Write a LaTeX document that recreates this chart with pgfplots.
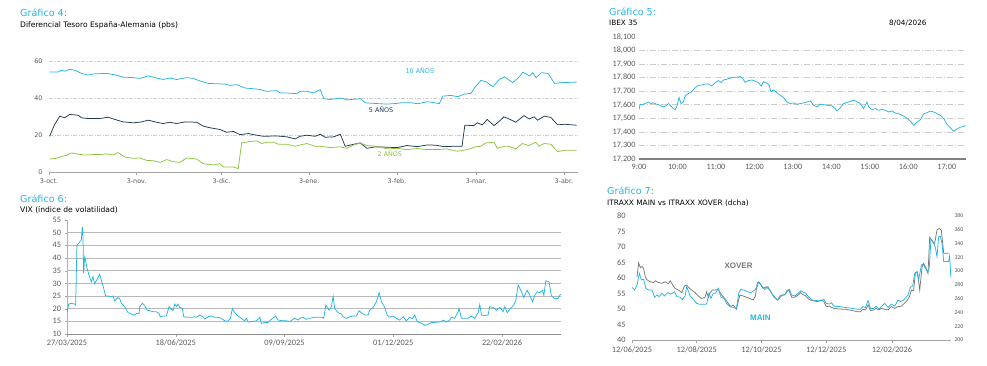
\documentclass[border=0pt]{standalone}
\usepackage{fontspec}
\setmainfont{DejaVu Sans}
\newfontfamily\carlito{Carlito}
\newfontfamily\arialf{Liberation Sans}
\usepackage{pgfplots}
\pgfplotsset{compat=1.18}
\definecolor{cy}{RGB}{38,180,228}
\definecolor{navy}{RGB}{30,58,78}
\definecolor{grn}{RGB}{140,196,60}
\definecolor{xg}{RGB}{120,120,120}
\definecolor{tickc}{RGB}{90,90,90}
\definecolor{ttl}{RGB}{40,180,230}
\begin{document}
\begin{tikzpicture}[x=1pt,y=1pt]
\path[use as bounding box] (0,0) rectangle (987,365);
% ---- titles
\node[anchor=base west, inner sep=0, text=ttl, font=\fontsize{9.6}{11}\selectfont] at (20,348) {Gráfico 4:};
\node[anchor=base west, inner sep=0, font=\fontsize{7.6}{9}\selectfont] at (20,337) {Diferencial Tesoro España-Alemania (pbs)};
\node[anchor=base west, inner sep=0, text=ttl, font=\fontsize{9.6}{11}\selectfont] at (609,349.5) {Gráfico 5:};
\node[anchor=base west, inner sep=0, font=\fontsize{7.3}{9}\selectfont] at (609,339) {IBEX 35};
\node[anchor=base west, inner sep=0, font=\fontsize{7.3}{9}\selectfont] at (889,339) {8/04/2026};
\node[anchor=base west, inner sep=0, text=ttl, font=\fontsize{9.6}{11}\selectfont] at (20,162.5) {Gráfico 6:};
\node[anchor=base west, inner sep=0, font=\fontsize{7.6}{9}\selectfont] at (20,152.3) {VIX (índice de volatilidad)};
\node[anchor=base west, inner sep=0, text=ttl, font=\fontsize{9.6}{11}\selectfont] at (607,170.5) {Gráfico 7:};
\node[anchor=base west, inner sep=0, font=\fontsize{7.4}{9}\selectfont] at (607,159.3) {ITRAXX MAIN vs ITRAXX XOVER (dcha)};

% ---- Grafico 4
\begin{axis}[
  at={(49pt,193pt)}, anchor=south west, scale only axis,
  width=529pt, height=111pt,
  xmin=0, xmax=187, ymin=0, ymax=60,
  axis lines*=left, axis line style={-},
  y axis line style={draw=none},
  x axis line style={draw=gray!70, line width=0.6pt},
  xtick={0,31,61,92,123,151,182},
  xticklabels={3-oct.,3-nov.,3-dic.,3-ene.,3-feb.,3-mar.,3-abr.},
  ytick={0,20,40,60},
  ymajorgrids,
  major grid style={gray!40, line width=0.5pt, dash pattern=on 4pt off 1.5pt on 1pt off 1.5pt},
  xtick style={draw=gray!70, line width=0.5pt},
  ytick style={draw=none},
  tick align=outside, major tick length=3pt,
  tick label style={font=\fontsize{6.4}{7}\selectfont, text=tickc},
  /pgf/number format/assume math mode=true,
]
\addplot[cy, line width=0.75pt] coordinates {(0.2,54) (3.2,54) (4.4,55) (5.5,54.5) (7.3,55.5) (9.1,55) (11.5,53.3) (13.8,52.4) (15.6,53) (20.3,53.3) (23.8,52.4) (26.2,51.3) (29.8,51) (32.1,50.6) (35.1,51.9) (38,50.8) (40.4,50) (42.7,50.8) (45.1,50) (48.6,51) (51,50.6) (53.4,49.2) (56.3,47.9) (59.3,47.7) (62.2,47.5) (64,46.8) (66.3,47.2) (69.3,45.4) (72.3,45) (74.6,44.6) (77,43.6) (80.5,44) (81.7,42.8) (85.2,42.6) (87.6,42.3) (88.8,43.6) (91.2,43.6) (93.5,42.8) (95.9,44.5) (97.2,39.6) (99.4,39.2) (103,40) (105.3,39) (110,39.6) (111.8,37.4) (115.9,37) (119.5,36.7) (122.4,37) (124.4,37.4) (128,37.4) (130.3,36.9) (133.8,38) (138,37) (139.2,41) (142.1,41.4) (144.5,40.7) (146.8,42.1) (149.2,42.5) (150.4,45.5) (152.7,49.5) (154.5,48.8) (156.9,46.1) (159.2,50) (161,51.5) (163.9,48.3) (166.3,51.5) (167.5,54) (169.9,51.9) (171,53.7) (172.2,51) (174,53.7) (176.4,53.3) (178.7,47.9) (181.1,48.3) (186.5,48.6)};
\addplot[navy, line width=0.75pt] coordinates {(0.2,19.3) (2,25.7) (3.8,30.2) (5.5,29.3) (7.3,31.1) (10.3,30.7) (11.5,29.3) (13.8,28.9) (17.9,28.9) (20.9,29.6) (23.3,28.4) (26.2,27.1) (29.8,26.6) (32.1,26.9) (35.1,28) (38,26.9) (40.4,26.2) (42.7,26.9) (45.1,26.2) (48.1,27.1) (52.2,26.9) (54.5,24.8) (56.9,23.9) (60.4,23) (62.8,21.5) (65.2,21.9) (67.5,20.2) (70.5,20.8) (72.3,20.2) (75.8,19.3) (80.5,19.5) (84.1,19) (87,17.9) (88.8,19.3) (91.1,19.9) (94.1,19.3) (95.9,20.4) (97.6,18.8) (100.6,19) (103,20.4) (104.7,13.9) (107.7,15) (110,15.7) (112.4,12.8) (115.4,13.6) (119.5,13.4) (123,13.2) (126.6,14.3) (130.1,13.7) (133.7,14.6) (136.6,14.5) (139.6,13.7) (143.1,13.9) (146,13.9) (147,25.3) (150.2,25.1) (151.4,26.6) (153.2,25.5) (154.9,28.4) (157.3,25.1) (159.6,28) (160.8,29.8) (162.6,28.7) (165,26.9) (167.9,30.5) (169.7,28.7) (171.5,29.8) (172.7,28) (175.1,30.2) (177.4,29.5) (179.8,25.5) (182.2,25.8) (186.5,25.3)};
\addplot[grn, line width=0.75pt] coordinates {(0.2,7) (2.6,7.4) (4.4,8.5) (6.1,8.9) (7.9,10.3) (10.3,9.6) (12.6,9.2) (15.6,9.4) (17.9,9.4) (20.3,9.8) (22.7,9.2) (24.4,10.5) (26.8,8.1) (29.8,7.4) (32.1,7.6) (34.5,6.3) (36.8,6.1) (39.2,5.2) (41.6,6.7) (43.9,5.6) (46.3,5.2) (48.6,7.6) (52.2,7) (54.5,4.5) (58.1,3.8) (60.4,4.5) (61.6,2.7) (65.2,2.7) (66.9,1.8) (68.1,15.7) (70.5,16.4) (73.4,16.8) (75.2,15.4) (77,16.1) (79.3,16.1) (81.1,15) (84.1,15) (87,13.9) (88.8,14.6) (91.1,15.4) (94.1,13.9) (95.9,13.9) (99.4,13.2) (103,13.6) (105.3,12.8) (107.7,14.6) (110,15.7) (112.4,14.3) (115.9,13.9) (119.5,12.5) (123,12.8) (126.6,12.1) (130.1,12.7) (133.7,12.1) (137.2,12.1) (140.7,12.5) (144.3,11.2) (147.8,12.1) (150.8,13.6) (152.6,13.9) (154.3,15.7) (157.3,16.1) (158.5,12.8) (160.8,13.9) (162.6,13.9) (165,12.5) (167.3,15.4) (169.7,14.3) (172.1,16.1) (173.2,13.9) (175,15.4) (177.4,15) (179.8,11) (182.2,11.7) (186.5,11.7)};
\node[text=cy, font=\fontsize{6.4}{7}\selectfont] at (axis cs:131.1,54.6) {10 AÑOS};
\node[text=navy, font=\fontsize{6.4}{7}\selectfont] at (axis cs:117.4,33.5) {5 AÑOS};
\node[text=grn, font=\fontsize{6.4}{7}\selectfont] at (axis cs:120.5,9.7) {2 AÑOS};
\end{axis}

% ---- Grafico 5
\begin{axis}[
  at={(639pt,206pt)}, anchor=south west, scale only axis,
  width=327pt, height=122pt,
  xmin=9, xmax=17.5, ymin=17200, ymax=18100,
  axis lines*=left, axis line style={-},
  y axis line style={draw=none},
  x axis line style={draw=none},
  xtick={9,10,11,12,13,14,15,16,17},
  xticklabels={9:00,10:00,11:00,12:00,13:00,14:00,15:00,16:00,17:00},
  ytick={17300,17400,17500,17600,17700,17800,17900,18000},
  extra y ticks={17200,18100}, extra y tick style={grid=none},
  scaled y ticks=false,
  ymajorgrids,
  major grid style={gray!40, line width=0.6pt, dash pattern=on 6pt off 2pt on 1pt off 2pt},
  tick style={draw=none},
  tick label style={font=\carlito\fontsize{8.2}{9}\selectfont, text=tickc},
  yticklabel={\pgfmathprintnumber[fixed,precision=0,1000 sep={,},assume math mode=true]{\tick}},
  extra y tick label={\pgfmathprintnumber[fixed,precision=0,1000 sep={,},assume math mode=true]{\tick}},
  /pgf/number format/assume math mode=true,
  xticklabel style={yshift=-1.5pt},
  extra description/.code={\draw[gray, line width=2.6pt] (0,0) -- (1,0);},
]
\addplot[cy, line width=0.75pt] coordinates {(9.000,17564) (9.026,17601) (9.113,17604) (9.200,17614) (9.243,17621) (9.312,17609) (9.373,17614) (9.460,17604) (9.547,17597) (9.633,17584) (9.720,17597) (9.764,17609) (9.850,17584) (9.937,17564) (9.980,17584) (10.041,17654) (10.093,17609) (10.154,17621) (10.197,17664) (10.284,17684) (10.371,17696) (10.440,17721) (10.544,17743) (10.631,17746) (10.718,17753) (10.805,17753) (10.892,17738) (10.978,17763) (11.065,17778) (11.134,17763) (11.195,17783) (11.282,17788) (11.369,17796) (11.456,17803) (11.542,17803) (11.629,17808) (11.690,17796) (11.759,17766) (11.846,17778) (11.933,17783) (12.020,17773) (12.106,17763) (12.176,17738) (12.236,17771) (12.323,17758) (12.384,17746) (12.427,17696) (12.497,17709) (12.584,17689) (12.670,17671) (12.757,17654) (12.844,17621) (12.931,17609) (13.017,17614) (13.104,17604) (13.191,17609) (13.278,17614) (13.364,17621) (13.451,17629) (13.538,17597) (13.625,17584) (13.712,17604) (13.798,17601) (13.885,17597) (14.015,17592) (14.102,17572) (14.145,17554) (14.232,17579) (14.319,17609) (14.449,17621) (14.579,17634) (14.666,17624) (14.753,17609) (14.839,17572) (14.926,17621) (14.970,17584) (15.056,17564) (15.143,17572) (15.230,17559) (15.317,17567) (15.404,17559) (15.490,17547) (15.577,17554) (15.664,17539) (15.751,17534) (15.837,17522) (15.924,17509) (16.011,17490) (16.098,17465) (16.141,17447) (16.228,17472) (16.315,17490) (16.401,17534) (16.488,17542) (16.575,17554) (16.662,17547) (16.748,17534) (16.835,17522) (16.922,17497) (17.009,17455) (17.095,17430) (17.182,17403) (17.269,17423) (17.356,17435) (17.443,17440) (17.486,17447)};
\end{axis}

% ---- Grafico 6
\begin{axis}[
  at={(67pt,31pt)}, anchor=south west, scale only axis,
  width=494pt, height=114pt,
  xmin=0, xmax=377, ymin=10, ymax=55,
  axis lines*=left, axis line style={-},
  x axis line style={draw=gray!90, line width=0.9pt},
  y axis line style={draw=gray!60, line width=0.6pt},
  xtick={0,83,166,249,332},
  xticklabels={27/03/2025,18/06/2025,09/09/2025,01/12/2025,22/02/2026},
  ytick={10,15,20,25,30,35,40,45,50},
  extra y ticks={55}, extra y tick style={grid=none},
  ymajorgrids, major grid style={gray!55, line width=0.6pt},
  tick align=outside, major tick length=2.5pt,
  tick style={gray!70},
  tick label style={font=\carlito\fontsize{8.3}{9}\selectfont, text=tickc},
  /pgf/number format/assume math mode=true,
]
\addplot[cy, line width=0.75pt] coordinates {(0,18.8) (1.3,21.8) (3.3,22.1) (5.9,21.8) (6.6,21.4) (7.6,45) (9.2,46) (10.9,47) (11.7,52.3) (12.2,48.3) (12.7,33.9) (13.5,40.4) (14.2,39.1) (15.3,35.9) (16.8,33.2) (18.6,30.6) (19.8,32.6) (21.1,30) (22.9,31.5) (24.9,33.6) (26.2,31.3) (28,28) (29.5,25) (31.3,25) (33.8,24.7) (35.1,25) (36.4,23.1) (38.9,24.4) (40.2,24) (41.5,22.1) (44,20.8) (46.6,18.4) (49.1,17.9) (50.9,17.5) (53.4,18.1) (55,18.1) (55.5,20.8) (57.5,22.1) (59.3,21.2) (61.1,19.4) (63.1,19.2) (65.6,18.8) (68.2,18.8) (70.2,18.1) (71.2,16.8) (73.3,17.1) (75.8,17.1) (77.9,20.8) (79.1,20.1) (80.9,19.2) (82.2,21.8) (83.5,20.8) (84.7,21.8) (86,20.5) (88,20.1) (89.1,16.8) (91.1,16.6) (94.9,16.6) (97.5,16.8) (98.7,16.6) (101.3,17.5) (103.8,16.8) (105.1,15.9) (107.6,16.8) (110.2,17.1) (112.7,16.6) (115.3,16.6) (117.8,16.2) (120.4,15.2) (122.9,15.1) (124.7,16.2) (126.2,20.1) (128,18.4) (130.5,17.1) (133.1,16.2) (135.6,15.2) (136.9,16.2) (138.2,14.7) (140.7,14.9) (144.5,15.2) (147.1,16.6) (148.3,14.2) (150.9,14.5) (153.4,14.5) (156,15.8) (159.3,17.1) (161.1,15.5) (164.9,15.2) (167.4,15.2) (170,14.9) (172.5,15.8) (173.8,16.2) (176.3,15.5) (177.6,16.2) (180.2,16.6) (182.7,15.8) (185.2,16.2) (189.1,16.6) (192.9,16.6) (194.9,16.6) (195.9,16.2) (197.5,21.4) (200,19.4) (201.8,20.8) (203.1,25) (204.3,20.1) (206.9,18.4) (209.4,17.9) (210.7,16.8) (213.2,16.2) (215.8,16.8) (218.3,17.1) (220.9,17.1) (222.9,19.2) (224.7,18.4) (227.2,17.5) (229.8,17.5) (231,19.4) (233.6,20.5) (236.1,22.7) (238.2,26.3) (240,22.7) (242.5,20.5) (244.3,17.5) (246.3,16.6) (248.9,17.1) (251.4,16.2) (253.9,15.5) (256.5,16.8) (259,15.2) (261.6,16.6) (263.6,16) (265.4,17.5) (267.2,14.9) (270.5,14.2) (273.1,13.4) (275.6,13.9) (278.1,14.5) (280.7,14.6) (283.2,14.7) (285.8,14.9) (287,15.5) (289.6,14.7) (292.1,15.5) (293.4,16.6) (295.9,16.2) (298.5,18.8) (299.2,20.1) (301,16.2) (303.6,16.2) (306.1,16.2) (308.7,17.1) (311.2,16.2) (313.7,18.4) (315,21.7) (316.3,17.5) (318.8,17.3) (321.4,17.5) (322.6,20.8) (325.2,20.5) (327.7,19.4) (330.3,20.5) (332.8,18.8) (334.1,20.8) (335.9,18.4) (338.4,20.1) (341,21.4) (342.5,23.3) (344.3,29.3) (346.8,26.7) (348.6,24.4) (351.1,27.3) (353.2,25.3) (355.2,22.7) (357,25.3) (358.8,26.7) (360.8,26.3) (362.8,27.3) (363.9,25.3) (365.4,31) (367.9,30.6) (369.7,25) (372.3,24) (374.8,24) (376.6,25.7)};
\end{axis}

% ---- Grafico 7 (XOVER, right axis)
\begin{axis}[
  at={(632pt,25pt)}, anchor=south west, scale only axis,
  width=319pt, height=124pt,
  xmin=0, xmax=300.6, ymin=200, ymax=380,
  axis x line=none, axis y line*=right, axis line style={-},
  y axis line style={draw=none}, ytick style={draw=none},
  ytick={200,220,240,260,280,300,320,340,360,380},
  yticklabel style={font=\carlito\fontsize{5.8}{6}\selectfont, text=tickc},
  /pgf/number format/assume math mode=true,
]
\addplot[xg, line width=0.75pt] coordinates {(4.7,291.8) (6.3,312) (7.8,305) (9.4,306.7) (10.9,304) (12.5,291.8) (14.1,287.3) (17.2,284.6) (20.3,283.3) (21.9,286) (25,283.3) (28.1,282.4) (31.3,284.6) (34.4,281.5) (35.9,286) (39.1,278.3) (40.6,275) (43.8,272.5) (46.9,268.9) (49.4,278.3) (51.6,279.7) (53.1,276.5) (56.3,272.5) (59.4,268.9) (62.5,263.9) (65.6,260.3) (68.8,262.1) (70.3,270.2) (71.9,262.1) (73.4,268) (75.6,272.5) (78.1,272.5) (81.3,273.4) (84.4,265.3) (87.5,260.3) (90.6,253.1) (93.1,248.6) (95.3,250.9) (98.4,244.6) (101.6,265.3) (104.7,263.9) (107.8,262.1) (110.9,260.3) (114.1,258) (116.3,263.9) (118.1,283.3) (120.3,282.4) (123.4,275) (126.6,277.4) (129.7,272.5) (133.8,262.1) (137.5,258) (140.6,263.9) (144.4,266.6) (146.9,271.6) (147.9,272.5) (150.4,262.1) (153.5,262.1) (156.7,265.3) (158.9,268.9) (160.4,266.6) (163.6,263.9) (166.7,259) (169.8,257.2) (174.5,255.8) (178.6,258) (180.8,255.8) (183,248.6) (186.1,249) (188,247.3) (190.2,245.9) (194.9,245) (201.2,244.6) (207.5,242.8) (212.2,241) (215.3,241) (217.5,244.6) (220,243.7) (222.5,250.9) (224.7,242.8) (227.8,243.7) (230,245.9) (232.5,243.7) (235,245.9) (238.2,244.6) (241.3,243.7) (244.4,248.6) (247.6,245.9) (250.7,248.6) (253.8,249) (257,254) (259.2,257.2) (261.4,263) (263.3,272.5) (265.4,271.6) (267,297.7) (268.9,299) (271.1,272.5) (273.3,305.8) (274.8,311.2) (276.4,306.7) (278.9,296.8) (280.5,349) (282.7,344) (285.2,340.4) (287.4,359.8) (289.6,362) (291.5,358.9) (293.7,326) (295.9,326) (298.4,326)};
\node[text=xg, font=\arialf\bfseries\fontsize{8}{9}\selectfont] at (axis cs:100.4,307.6) {XOVER};
\end{axis}

% ---- Grafico 7 (MAIN, left axis)
\begin{axis}[
  at={(632pt,25pt)}, anchor=south west, scale only axis,
  width=319pt, height=124pt,
  xmin=0, xmax=300.6, ymin=40, ymax=80,
  axis x line*=bottom, axis y line*=left, axis line style={-},
  y axis line style={draw=none},
  x axis line style={draw=gray!70, line width=0.6pt},
  xtick={0,61,122,183,245},
  xticklabels={12/06/2025,12/08/2025,12/10/2025,12/12/2025,12/02/2026},
  ytick={40,45,50,55,60,65,70,75,80},
  tick align=outside, major tick length=3pt,
  xtick style={draw=gray!70, line width=0.5pt}, ytick style={draw=none},
  tick label style={font=\carlito\fontsize{8.3}{9}\selectfont, text=tickc},
  /pgf/number format/assume math mode=true,
]
\addplot[cy, line width=0.75pt] coordinates {(0,57) (2.5,56.1) (4.7,57.7) (6.9,61.5) (8.8,59.4) (10.9,59.6) (13.1,56.7) (15.6,56.1) (18.8,56.1) (21.3,53.8) (23.4,54.5) (25.6,54) (28.1,55.1) (30.6,54.2) (33.8,55.3) (36.9,54.8) (40,55.6) (42.2,54) (45.3,53.8) (47.5,53.1) (50,54.2) (51.6,57.2) (54.7,54.2) (57.8,53.1) (60.9,51.8) (64.1,51.5) (67.2,51.5) (70.3,51.6) (72.5,55.1) (74.4,53.4) (76.6,55.1) (78.8,55.1) (81.3,56.7) (83.8,53.8) (86.9,53.4) (89.1,51.8) (92.2,50.8) (95.3,50.5) (98.4,50.2) (100.6,55.1) (102.5,56.3) (105.6,56.1) (108.8,55.6) (111.9,55.3) (115.6,56.1) (118.1,57.4) (119.4,58.8) (121.9,57.7) (125,56.3) (128.1,57.2) (131.3,55.3) (134.4,53.8) (136.9,52.9) (140,54.5) (143.8,54.5) (146.3,56.1) (148.5,56.3) (150.4,54.5) (153.5,54.2) (156.7,55.1) (158.9,55.9) (160.4,55.6) (163.6,55.1) (166.7,53.8) (169.8,52.9) (174.5,52.7) (178.6,52.7) (180.8,53.1) (183,51.8) (186.1,51.6) (188,52) (190.2,50.9) (194.9,50.8) (201.2,50.5) (207.5,50.2) (212.2,49.9) (215.3,49.9) (217.5,50.8) (220,50.5) (222.5,52.7) (224.7,50.2) (227.8,50.2) (230,50.9) (232.5,49.9) (235,50.8) (238.2,51.8) (241.3,50.5) (244.4,51.6) (247.6,50.9) (250.7,52.9) (252.9,52.4) (256,52.9) (258.2,53.8) (260.1,54.5) (262.3,57) (264.5,57.4) (266.4,61.5) (268.6,62) (270.1,59.4) (272.7,64.2) (274.2,64.5) (276.4,63.1) (278.9,62) (280.2,63.7) (281.7,72.5) (284.3,71.2) (285.8,69.9) (287.4,66.9) (289,73.3) (290.5,73.5) (292.1,71.2) (293.7,65.3) (295.9,65.3) (298.4,65.3) (299.3,67.1) (300.5,60.2)};
\node[text=cy, font=\arialf\bfseries\fontsize{8}{9}\selectfont] at (axis cs:121,47.1) {MAIN};
\end{axis}
\end{tikzpicture}
\end{document}
